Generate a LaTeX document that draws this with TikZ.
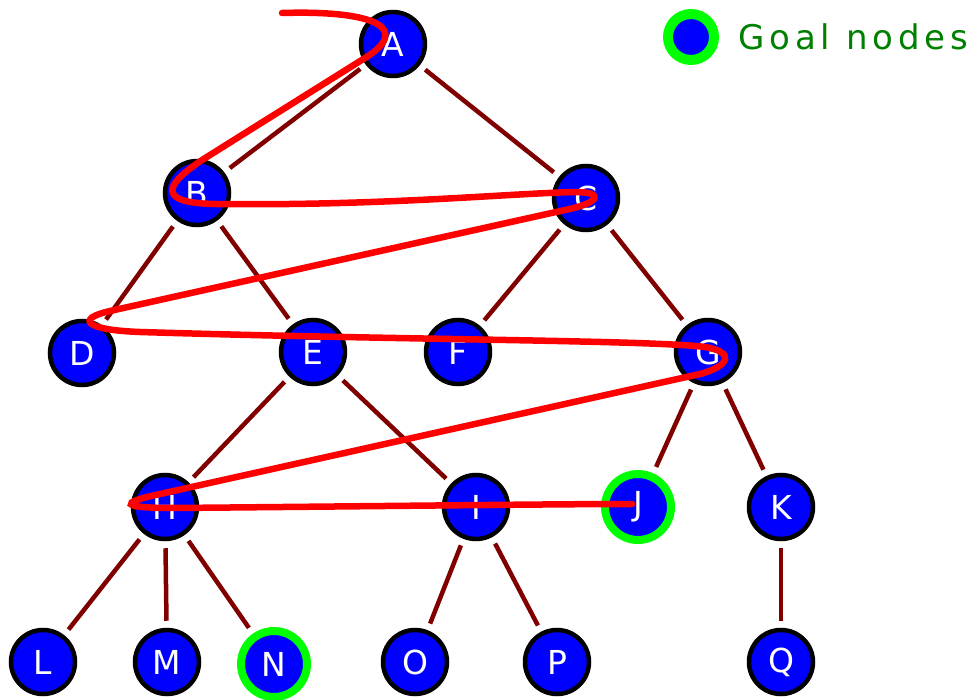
\documentclass[tikz,border=0pt]{standalone}
\usepackage{fontspec}
\setsansfont{DejaVu Sans}
\newfontfamily\legendfont[LetterSpace=14.5]{DejaVu Sans}
\usetikzlibrary{positioning}
\definecolor{treeblue}{RGB}{0,0,255}
\definecolor{goalgreen}{RGB}{0,255,0}
\definecolor{legendgreen}{RGB}{0,128,0}
\definecolor{branchred}{RGB}{128,0,0}
\definecolor{visitred}{RGB}{255,0,0}

\begin{document}
\begin{tikzpicture}[
        x=1pt,
        y=-1pt,
        every node/.style={font=\sffamily\fontsize{33}{33}\selectfont, text=white},
        vertex/.style={circle, draw=black, line width=4.5pt, fill=treeblue, minimum size=64pt, inner sep=0pt},
        goal/.style={vertex, draw=goalgreen, line width=8pt, minimum size=66pt},
        branch/.style={draw=branchred, line width=4.5pt, shorten <=7pt, shorten >=7pt},
        visit/.style={draw=visitred, line width=6.5pt, line cap=round}
    ]
    \useasboundingbox (0,0) rectangle (975,700);

    \node[vertex] (a) at (393,44) {A};
    \node[vertex] (b) at (197,193) {B};
    \node[vertex] (c) at (586,198) {C};
    \node[vertex] (d) at (82,353) {D};
    \node[vertex] (e) at (313,352) {E};
    \node[vertex] (f) at (458,352) {F};
    \node[vertex] (g) at (708,352) {G};
    \node[vertex] (h) at (165,507) {H};
    \node[vertex] (i) at (476,507) {I};
    \node[goal] (j) at (638,507) {J};
    \node[vertex] (k) at (781,507) {K};
    \node[vertex] (l) at (43,662) {L};
    \node[vertex] (m) at (167,662) {M};
    \node[goal] (n) at (274,664) {N};
    \node[vertex] (o) at (415,662) {O};
    \node[vertex] (p) at (557,662) {P};
    \node[vertex] (q) at (781,662) {Q};

    % legend
    \node[goal, line width=10pt, minimum size=46pt] (key) at (691,37) {};
    \node[right=19pt of key, inner sep=0pt, text=legendgreen,
        font=\legendfont\fontsize{34}{34}\selectfont] (keytext) {Goal nodes};

    \draw[branch] (a) -- (b);
    \draw[branch] (a) -- (c);
    \draw[branch] (b) -- (d);
    \draw[branch] (b) -- (e);
    \draw[branch] (c) -- (f);
    \draw[branch] (c) -- (g);
    \draw[branch] (e) -- (h);
    \draw[branch] (e) -- (i);
    \draw[branch] (g) -- (j);
    \draw[branch] (g) -- (k);
    \draw[branch] (h) -- (l);
    \draw[branch] (h) -- (m);
    \draw[branch] (h) -- (n);
    \draw[branch] (i) -- (o);
    \draw[branch] (i) -- (p);
    \draw[branch] (k) -- (q);

    % search order
    \draw[visit] (282,13) .. controls (380,10) and (410,30) .. (365,58)
        -- (210,155) .. controls (160,186) and (158,203) .. (215,204)
        .. controls (380,206) and (500,194) .. (575,192)
        .. controls (605,192) and (600,203) .. (565,210)
        -- (110,311) .. controls (75,319) and (85,330) .. (140,332)
        .. controls (400,340) and (650,340) .. (705,347)
        .. controls (735,352) and (730,366) .. (700,374)
        -- (160,494) .. controls (118,503) and (120,508) .. (175,508)
        .. controls (400,506) and (560,504) .. (632,504);
\end{tikzpicture}
\end{document}
